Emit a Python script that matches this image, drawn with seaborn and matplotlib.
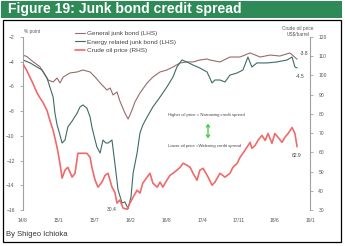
import matplotlib
matplotlib.use("Agg")
import matplotlib.pyplot as plt
import seaborn as sns
import pandas as pd
from matplotlib.patches import Rectangle, FancyArrowPatch

# ---------------- data (x in tick-interval units: 0 = 14/8 ... 8 = 19/1) ----------------
tick_labels = ["14/8", "15/1", "15/7", "16/2", "16/8", "17/4", "17/11", "18/6", "19/1"]

general_x = [0.00, 0.11, 0.28, 0.47, 0.70, 0.84, 0.95, 1.03, 1.12, 1.31, 1.51, 1.67, 1.87, 2.01,
             2.15, 2.34, 2.43, 2.51, 2.62, 2.70, 2.84, 2.93, 3.04, 3.12, 3.26, 3.46, 3.62, 3.82,
             4.01, 4.18, 4.38, 4.57, 4.74, 4.93, 5.13, 5.21, 5.49, 5.77, 6.05, 6.33, 6.61, 6.89,
             7.16, 7.44, 7.64]
general_y = [-3.46, -3.59, -4.00, -4.40, -5.48, -5.64, -5.32, -5.72, -5.24, -4.91, -4.83, -4.67,
             -4.83, -5.24, -5.72, -6.29, -6.13, -6.69, -6.45, -7.18, -8.15, -8.64, -7.91, -7.26,
             -6.53, -5.72, -5.24, -4.83, -4.67, -4.43, -4.10, -4.02, -4.02, -3.86, -3.78, -3.86,
             -4.02, -3.62, -3.62, -3.29, -3.62, -3.46, -3.54, -3.29, -3.80]

energy_x = [0.00, 0.20, 0.39, 0.53, 0.67, 0.75, 0.84, 0.89, 0.95, 1.00, 1.09, 1.17, 1.25, 1.37,
            1.51, 1.59, 1.67, 1.78, 1.87, 1.92, 2.01, 2.06, 2.15, 2.23, 2.31, 2.37, 2.48, 2.56,
            2.65, 2.76, 2.84, 2.93, 3.01, 3.07, 3.18, 3.26, 3.34, 3.46, 3.62, 3.82, 4.01, 4.18,
            4.29, 4.43, 4.57, 4.74, 4.93, 5.13, 5.27, 5.35, 5.49, 5.63, 5.77, 5.97, 6.13, 6.27,
            6.38, 6.52, 6.80, 7.08, 7.36, 7.50, 7.58, 7.64]
energy_y = [-3.86, -4.10, -4.43, -4.67, -5.32, -6.05, -6.86, -8.15, -9.12, -9.61, -10.58, -10.34,
            -9.28, -8.80, -8.15, -7.66, -7.50, -7.75, -8.47, -9.28, -10.34, -10.90, -11.39, -10.34,
            -10.58, -10.58, -10.34, -12.20, -14.38, -15.43, -15.35, -15.90, -14.95, -13.01, -11.39,
            -9.77, -9.12, -8.47, -7.66, -6.86, -6.05, -5.24, -4.43, -3.86, -4.02, -4.27, -4.51,
            -4.83, -5.72, -5.48, -5.48, -5.64, -5.08, -4.91, -4.67, -3.62, -4.43, -4.10, -4.10,
            -4.02, -3.86, -3.62, -4.43, -4.50]

oil_x = [0.00, 0.11, 0.20, 0.28, 0.39, 0.47, 0.56, 0.67, 0.75, 0.84, 0.95, 1.03, 1.09, 1.17, 1.25,
         1.37, 1.45, 1.53, 1.64, 1.78, 1.87, 1.92, 2.01, 2.09, 2.20, 2.29, 2.37, 2.48, 2.56, 2.62,
         2.70, 2.79, 2.90, 2.98, 3.07, 3.18, 3.26, 3.34, 3.46, 3.54, 3.62, 3.74, 3.82, 3.90, 4.01,
         4.10, 4.18, 4.29, 4.38, 4.46, 4.57, 4.66, 4.74, 4.85, 4.93, 5.02, 5.16, 5.27, 5.35, 5.49,
         5.63, 5.77, 5.85, 5.97, 6.05, 6.13, 6.24, 6.33, 6.38, 6.47, 6.55, 6.66, 6.75, 6.83, 6.94,
         7.02, 7.11, 7.22, 7.30, 7.39, 7.50, 7.58, 7.64]
oil_y = [106.0, 102.4, 98.8, 95.7, 91.0, 88.4, 85.9, 81.7, 76.6, 71.4, 62.6, 54.3, 46.6, 50.7, 52.2,
         47.1, 49.1, 59.5, 59.5, 59.5, 57.4, 52.2, 45.5, 41.9, 44.5, 48.1, 49.1, 41.9, 39.3, 33.6,
         35.2, 31.0, 30.4, 33.6, 36.7, 40.3, 38.8, 44.0, 47.1, 49.1, 44.0, 41.9, 44.5, 41.9, 45.5,
         48.1, 49.1, 50.7, 52.2, 54.3, 53.3, 52.2, 49.1, 45.5, 50.7, 51.7, 47.1, 42.9, 44.5, 49.1,
         47.1, 49.1, 52.2, 54.3, 57.4, 59.5, 62.6, 65.2, 62.1, 63.6, 66.2, 68.8, 66.2, 69.8, 64.7,
         69.8, 67.8, 65.2, 67.8, 69.8, 72.9, 69.8, 62.9]

series_labels = ["General junk bond (LHS)", "Energy related junk bond (LHS)", "Crude oil price (RHS)"]

# ---------------- figure ----------------
sns.set_style("white")
plt.rcParams["font.family"] = ["Liberation Sans", "DejaVu Sans"]

W, H = 345, 246
fig = plt.figure(figsize=(W / 100, H / 100), dpi=100)

def fx(px):
    return px / W

def fy(py):
    return 1 - py / H

# green title bar
fig.add_artist(Rectangle((fx(0.5), fy(17.5)), fx(342) - fx(0.5), fy(0.5) - fy(17.5),
                         transform=fig.transFigure, facecolor="#2e8b57", edgecolor="none"))
fig.text(fx(8), fy(9.5), "Figure 19: Junk bond credit spread", color="white",
         fontsize=10.1, fontweight="bold", va="center", ha="left")

# black border box
fig.add_artist(Rectangle((fx(3.5), fy(241.5)), fx(341) - fx(3.5), fy(19.5) - fy(241.5),
                         transform=fig.transFigure, facecolor="none", edgecolor="black", lw=0.9))

ax = fig.add_axes([fx(23), fy(210), fx(310) - fx(23), fy(37) - fy(210)])
ax2 = ax.twinx()

df_g = pd.DataFrame({"x": general_x, "y": general_y})
df_e = pd.DataFrame({"x": energy_x, "y": energy_y})
df_o = pd.DataFrame({"x": oil_x, "y": oil_y})

sns.lineplot(data=df_g, x="x", y="y", ax=ax, color="#9a6a6a", lw=0.8, label=series_labels[0])
sns.lineplot(data=df_e, x="x", y="y", ax=ax, color="#3d6b66", lw=0.8, label=series_labels[1])
sns.lineplot(data=df_o, x="x", y="y", ax=ax2, color="#f06a6a", lw=1.2, label=series_labels[2])

ax.set_xlim(0, 8)
ax.set_ylim(-16, -2)
ax2.set_ylim(30, 120)
ax.set_xlabel("")
ax.set_ylabel("")
ax2.set_xlabel("")
ax2.set_ylabel("")

ax.set_xticks(range(9))
ax.set_xticklabels(tick_labels)
ax.set_yticks(range(-16, -1, 2))
ax2.set_yticks(range(30, 121, 10))

grey = "#a0a0a0"
for a in (ax, ax2):
    for s in a.spines.values():
        s.set_visible(False)
    a.patch.set_visible(False)
ax.spines["left"].set_visible(True)
ax.spines["left"].set_color(grey)
ax.spines["left"].set_linewidth(0.8)
ax2.spines["right"].set_visible(True)
ax2.spines["right"].set_color(grey)
ax2.spines["right"].set_linewidth(0.8)

ax.tick_params(axis="y", length=2, width=0.6, color=grey, labelsize=3.6, labelcolor="#555555", pad=4)
ax2.tick_params(axis="y", length=2, width=0.6, color=grey, labelsize=3.6, labelcolor="#555555", pad=4)
ax.tick_params(axis="x", length=0, labelsize=3.6, labelcolor="#555555", pad=6)

# legend
h1, l1 = ax.get_legend_handles_labels()
h2, l2 = ax2.get_legend_handles_labels()
ax2.get_legend().remove()
ax.legend(h1 + h2, l1 + l2, loc="upper left", bbox_to_anchor=(fx(75), fy(30.5)),
          bbox_transform=fig.transFigure, frameon=False, fontsize=4.6,
          handlelength=1.6, handletextpad=0.3, labelspacing=0.5, borderaxespad=0, borderpad=0)
for t in ax.get_legend().get_texts():
    t.set_color("#444444")

# axis titles
fig.text(fx(24), fy(31), "% point", fontsize=3.4, color="#555555", ha="left", va="center")
fig.text(fx(298), fy(28.5), "Crude oil price", fontsize=3.4, color="#555555", ha="center", va="center")
fig.text(fx(298), fy(33.5), "US$/barrel", fontsize=3.4, color="#555555", ha="center", va="center")

# value labels
ax.annotate("-3.8", xy=(general_x[-1], general_y[-1]), xytext=(2, 4), textcoords="offset points",
            fontsize=3.6, color="#444444", ha="left", va="center")
ax.annotate("-4.5", xy=(energy_x[-1], energy_y[-1]), xytext=(-1, -6), textcoords="offset points",
            fontsize=3.6, color="#444444", ha="left", va="center")
ax2.annotate("62.9", xy=(oil_x[-1], oil_y[-1]), xytext=(0, -6), textcoords="offset points",
             fontsize=3.6, color="#444444", ha="center", va="center")
ax2.annotate("30.4", xy=(oil_x[32], oil_y[32]), xytext=(-11, 0), textcoords="offset points",
             fontsize=3.6, color="#444444", ha="center", va="center")

# explanatory annotation
fig.text(fx(206), fy(115), "Higher oil price = Narrowing credit spread", fontsize=3.1,
         color="#444444", ha="center", va="center")
fig.text(fx(205), fy(146), "Lower oil price =Widening credit spread", fontsize=3.1,
         color="#444444", ha="center", va="center")
fig.add_artist(FancyArrowPatch((fx(208), fy(121)), (fx(208), fy(141)), transform=fig.transFigure,
                               arrowstyle="<->,head_length=1.6,head_width=1.2", color="#33cc33", lw=0.9))

fig.text(fx(6), fy(235), "By Shigeo Ichioka", fontsize=5.5, color="#333333", ha="left", va="center")

fig.savefig("out.png", dpi=100)
